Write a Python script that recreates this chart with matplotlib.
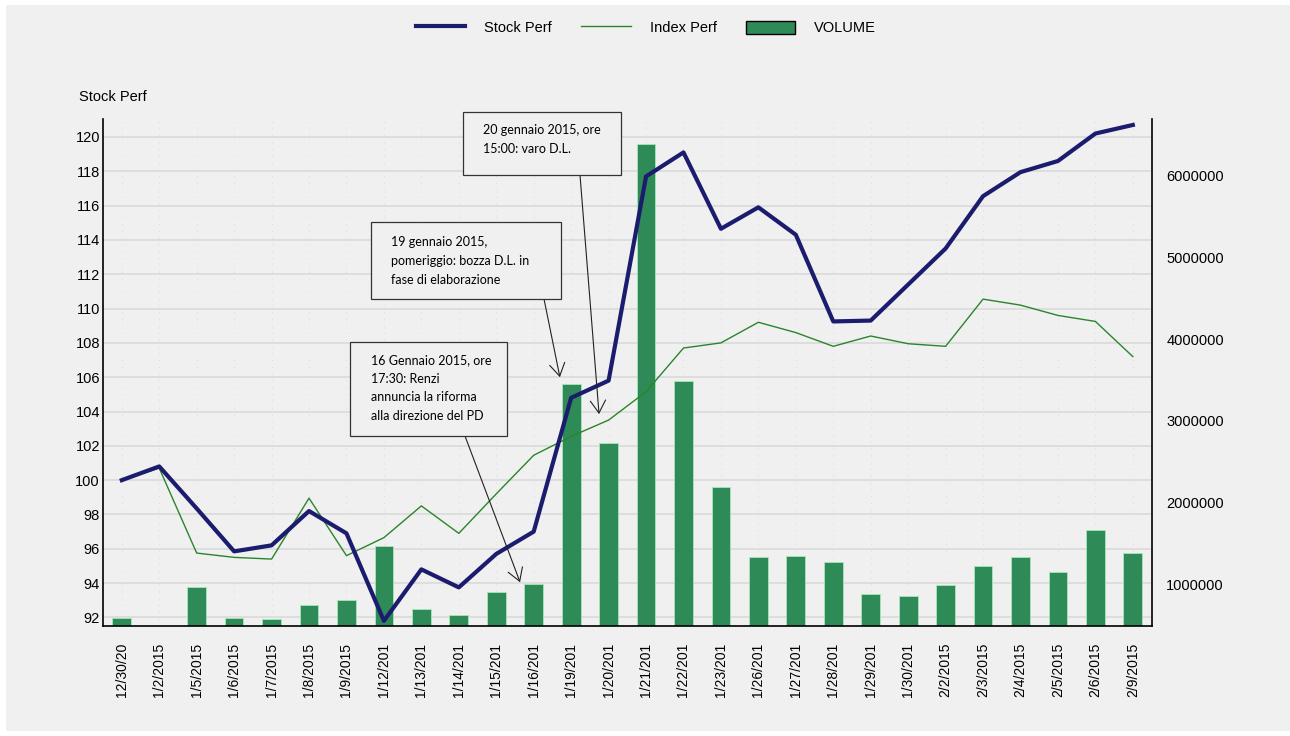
import matplotlib
matplotlib.use("Agg")
import matplotlib.pyplot as plt
from matplotlib.patches import Rectangle, Patch
from matplotlib.lines import Line2D
from matplotlib.transforms import blended_transform_factory
import numpy as np

# ---- data ----
dates = ["12/30/20", "1/2/2015", "1/5/2015", "1/6/2015", "1/7/2015", "1/8/2015", "1/9/2015",
         "1/12/201", "1/13/201", "1/14/201", "1/15/201", "1/16/201", "1/19/201", "1/20/201",
         "1/21/201", "1/22/201", "1/23/201", "1/26/201", "1/27/201", "1/28/201", "1/29/201",
         "1/30/201", "2/2/2015", "2/3/2015", "2/4/2015", "2/5/2015", "2/6/2015", "2/9/2015"]
stock_perf = [100.0, 100.8, 98.35, 95.85, 96.2, 98.2, 96.9, 91.8, 94.8, 93.75, 95.7, 97.0,
              104.8, 105.8, 117.7, 119.1, 114.65, 115.9, 114.3, 109.25, 109.3, 111.4,
              113.5, 116.55, 117.95, 118.6, 120.2, 120.7]
index_perf = [100.0, 100.7, 95.75, 95.5, 95.4, 98.95, 95.6, 96.65, 98.5, 96.9, 99.2, 101.45,
              102.55, 103.5, 105.15, 107.7, 108.0, 109.2, 108.6, 107.8, 108.4, 107.95,
              107.8, 110.55, 110.2, 109.6, 109.25, 107.2]
volume = [585000, 0, 966000, 593000, 580000, 747000, 813000, 1469000, 703000, 629000,
          900000, 1009000, 3457000, 2736000, 6388000, 3488000, 2190000, 1337000, 1350000,
          1270000, 878000, 856000, 996000, 1219000, 1337000, 1153000, 1665000, 1389000]
left_ticks = [92, 94, 96, 98, 100, 102, 104, 106, 108, 110, 112, 114, 116, 118, 120]
right_ticks = [1000000, 2000000, 3000000, 4000000, 5000000, 6000000]

notes = [
    ["20 gennaio 2015, ore", "15:00: varo D.L."],
    ["19 gennaio 2015,", "pomeriggio: bozza D.L. in", "fase di elaborazione"],
    ["16 Gennaio 2015, ore", "17:30: Renzi", "annuncia la riforma", "alla direzione del PD"],
]
# arrow tips in data coordinates (category position, Stock Perf value)
note_tips = [(12.745, 103.85), (11.70, 106.0), (10.636, 94.05)]

# ---- figure ----
W, H = 1290, 736
plt.rcParams['font.family'] = ['Liberation Sans', 'DejaVu Sans']
fig = plt.figure(figsize=(W / 100, H / 100), dpi=100, facecolor='white')
BG = '#f0f0f0'
fig.patches.append(Rectangle((6 / W, 1 - 731 / H), (1290 - 6) / W, (731 - 5) / H,
                             transform=fig.transFigure, facecolor=BG, edgecolor='none', zorder=-10))


def px(x, y):
    return x / W, 1 - y / H


ax = fig.add_axes([102.7 / W, 1 - 626 / H, (1152.3 - 102.7) / W, (626 - 119.3) / H])
ax2 = ax.twinx()
ax.set_zorder(2)
ax2.set_zorder(1)
ax.patch.set_visible(False)
ax2.patch.set_visible(False)

x = np.arange(len(dates))

# bars (right axis)
bars = ax2.bar(x, volume, width=0.5, color='#2e8b57', edgecolor='#a8e6b8', linewidth=0.6, zorder=3)
ax2.set_ylim(489000, 6694000)
ax2.set_yticks(right_ticks)
ax2.set_yticklabels([str(v) for v in right_ticks])
ax2.tick_params(axis='y', length=0, pad=10, labelsize=10.5)

# lines (left axis)
l1, = ax.plot(x, stock_perf, color='#1c1c6e', lw=3.0, solid_joinstyle='round', zorder=4)
l2, = ax.plot(x, index_perf, color='#2a852a', lw=1.0, zorder=3)
ax.set_ylim(91.5, 121.03)
ax.set_xlim(-0.51, 27.52)
ax.set_yticks(left_ticks)
ax.set_xticks(x)
ax.set_xticklabels(dates, rotation=90, va='top', ha='center')
ax.tick_params(axis='y', length=0, pad=2, labelsize=10.5)
ax.tick_params(axis='x', length=0, pad=12, labelsize=10)

# gridlines drawn under the bars
tr = blended_transform_factory(ax2.transAxes, ax.transData)
for yv in left_ticks:
    ax2.plot([0, 1], [yv, yv], transform=tr, color='#dcdcdc', lw=1.3, zorder=0)
for xi in x:
    ax2.axvline(xi, color='#dadada', lw=0.7, ls=(0, (1, 6)), zorder=0)

for a in (ax, ax2):
    a.spines['top'].set_visible(False)
ax.spines['right'].set_visible(False)
ax2.spines['left'].set_visible(False)
ax2.spines['bottom'].set_visible(False)
for s in ('left', 'bottom'):
    ax.spines[s].set_color('black')
    ax.spines[s].set_linewidth(1.2)
ax2.spines['right'].set_color('black')
ax2.spines['right'].set_linewidth(1.2)

# axis title
fig.text(*px(79, 97), 'Stock Perf', ha='left', va='center', fontsize=10.5)

# legend
handles = [Line2D([], [], color='#1c1c6e', lw=3.0),
           Line2D([], [], color='#2a852a', lw=1.0),
           Patch(facecolor='#2e8b57', edgecolor='black', linewidth=1.0)]
fig.legend(handles, ['Stock Perf', 'Index Perf', 'VOLUME'], loc='center',
           bbox_to_anchor=px(646, 28), ncol=3, frameon=False, fontsize=10.5,
           handlelength=3.4, handletextpad=1.3, columnspacing=2.0, handleheight=1.0)

# annotation boxes
boxes = [(463, 112, 621, 175, 483, [130, 149], (580, 175)),
         (371, 222, 561, 299, 391, [242, 261, 280], (544, 299)),
         (350, 342, 507, 436, 371, [360, 379, 397, 416], (465, 436))]
for (x0, y0, x1, y1, tx, ys, tail), lines, tip in zip(boxes, notes, note_tips):
    fig.patches.append(Rectangle(px(x0, y1), (x1 - x0) / W, (y1 - y0) / H,
                                 transform=fig.transFigure, facecolor=BG,
                                 edgecolor='#333333', lw=0.9, zorder=5))
    for line, yy in zip(lines, ys):
        fig.text(*px(tx, yy), line, ha='left', va='center', fontsize=9,
                 family=['Lato', 'DejaVu Sans'], zorder=6)
    ax.annotate('', xy=tip, xycoords='data', xytext=px(*tail), textcoords='figure fraction',
                arrowprops=dict(arrowstyle='->,head_length=0.9,head_width=0.55', color='#222222',
                                lw=0.8, shrinkA=0, shrinkB=0), zorder=5)

fig.savefig('out.png', dpi=100, facecolor='white')
